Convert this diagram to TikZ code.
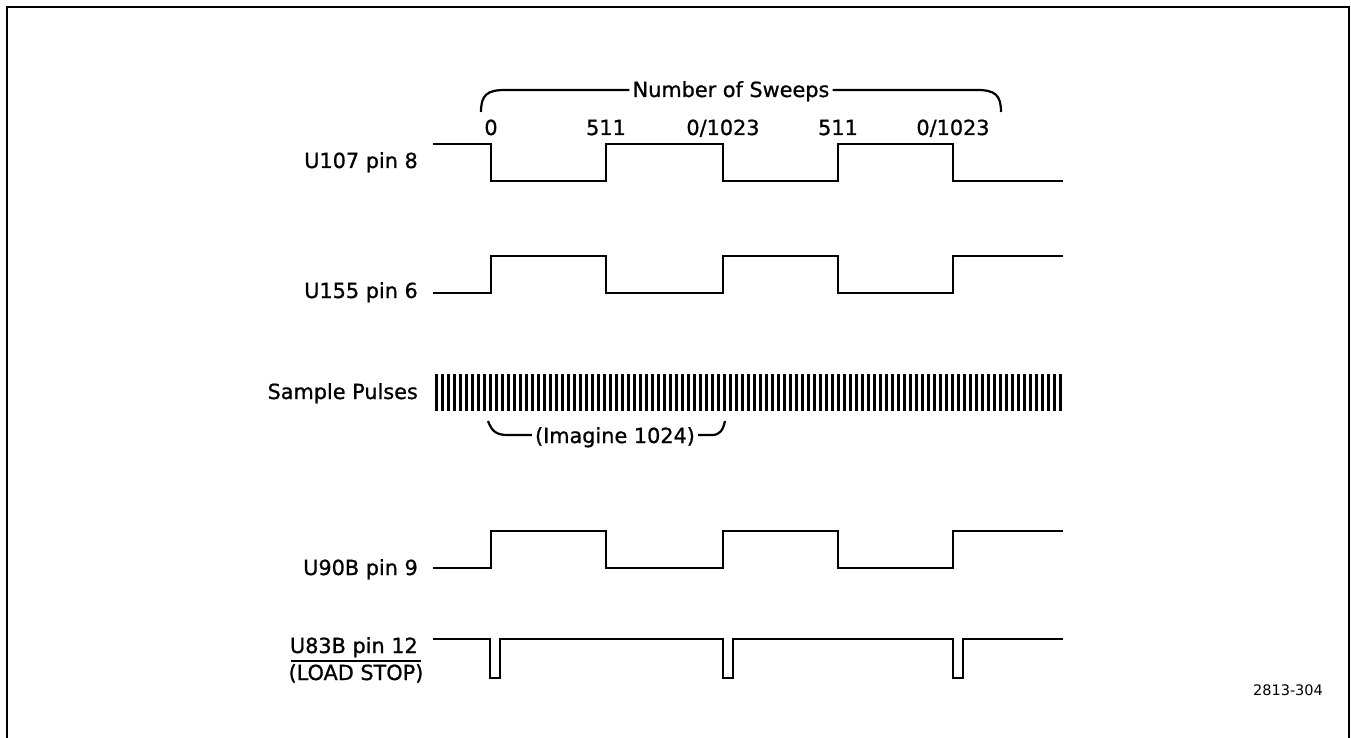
\documentclass[tikz,border=0pt]{standalone}
\usepackage{fontspec}
\setmainfont{DejaVu Sans}
\newfontfamily\medfont[FakeBold=0.9]{DejaVu Sans}
\begin{document}
\begin{tikzpicture}[x=1pt,y=-1pt,
  wave/.style={line width=2.6pt, line join=miter},
  pulse/.style={line width=3pt},
  bracel/.style={line width=2.2pt},
  frame/.style={line width=2pt},
  lbl/.style={font=\medfont\fontsize{20.8}{24}\selectfont, inner sep=0pt},
  num/.style={font=\medfont\fontsize{20.8}{24}\selectfont, inner sep=0pt, anchor=base},
  small/.style={font=\fontsize{14.5}{17}\selectfont, inner sep=0pt, anchor=base}]
\useasboundingbox (0,0) rectangle (1351,738);
\fill[white] (0,0) rectangle (1351,738);
\draw[frame] (7,738) -- (7,7) -- (1349,7) -- (1349,738);

% brace: Number of Sweeps
\node[lbl, anchor=base, inner sep=3pt] (sweeps) at (731,97) {Number of Sweeps};
\coordinate (sy) at (0,90);
\coordinate (bl) at (481,112);
\coordinate (br) at (1001,112);
\draw[bracel] (bl) .. controls (481,95) and (487,90) .. (505,90) -- (sweeps.west |- sy);
\draw[bracel] (sweeps.east |- sy) -- (977,90) .. controls (995,90) and (1001,95) .. (br);

% numbers
\node[num] (n0) at (491,135) {0};
\node[num] (n1) at (606,135) {511};
\node[num] (n2) at (723,135) {0/1023};
\node[num] (n3) at (838,135) {511};
\node[num] (n4) at (953,135) {0/1023};

% labels
\node[lbl, anchor=base east] (l1) at (418,168) {U107 pin 8};
\node[lbl, anchor=base east] (l2) at (418,298) {U155 pin 6};
\node[lbl, anchor=base east] (l3) at (418,399) {Sample Pulses};
\node[lbl, anchor=base east] (l4) at (418,575) {U90B pin 9};
\node[lbl, anchor=base east] (l5) at (418,653) {U83B pin 12};
\node[lbl, anchor=base] (l6) at (356,680) {(LOAD STOP)};
\draw[line width=1.4pt] (291,661) -- (421,661);

% U107 pin 8
\draw[wave] (433,144) -- (491,144) -- (491,181) -- (606,181) -- (606,144) -- (723,144) -- (723,181) -- (838,181) -- (838,144) -- (953,144) -- (953,181) -- (1063,181);
% U155 pin 6
\draw[wave] (433,293) -- (491,293) -- (491,256) -- (606,256) -- (606,293) -- (723,293) -- (723,256) -- (838,256) -- (838,293) -- (953,293) -- (953,256) -- (1063,256);
% Sample pulses
\foreach \i in {0,...,104} \draw[pulse] ({436+\i*6},374) -- ({436+\i*6},411);
% Imagine brace
\node[lbl, anchor=base, inner sep=3pt] (imag) at (615,443) {(Imagine 1024)};
\coordinate (iy) at (0,435);
\draw[bracel] (488,421) .. controls (492,432) and (497,435) .. (508,435) -- (imag.west |- iy);
\draw[bracel] (imag.east |- iy) -- (712,435) .. controls (720,435) and (723,430) .. (725,421);
% U90B pin 9
\draw[wave] (433,568) -- (491,568) -- (491,531) -- (606,531) -- (606,568) -- (723,568) -- (723,531) -- (838,531) -- (838,568) -- (953,568) -- (953,531) -- (1063,531);
% U83B pin 12
\draw[wave] (433,639) -- (490,639) -- (490,678) -- (500,678) -- (500,639) -- (723,639) -- (723,678) -- (733,678) -- (733,639) -- (953,639) -- (953,678) -- (963,678) -- (963,639) -- (1063,639);

\node[small] (ref) at (1288,695) {2813-304};
\end{tikzpicture}
\end{document}
